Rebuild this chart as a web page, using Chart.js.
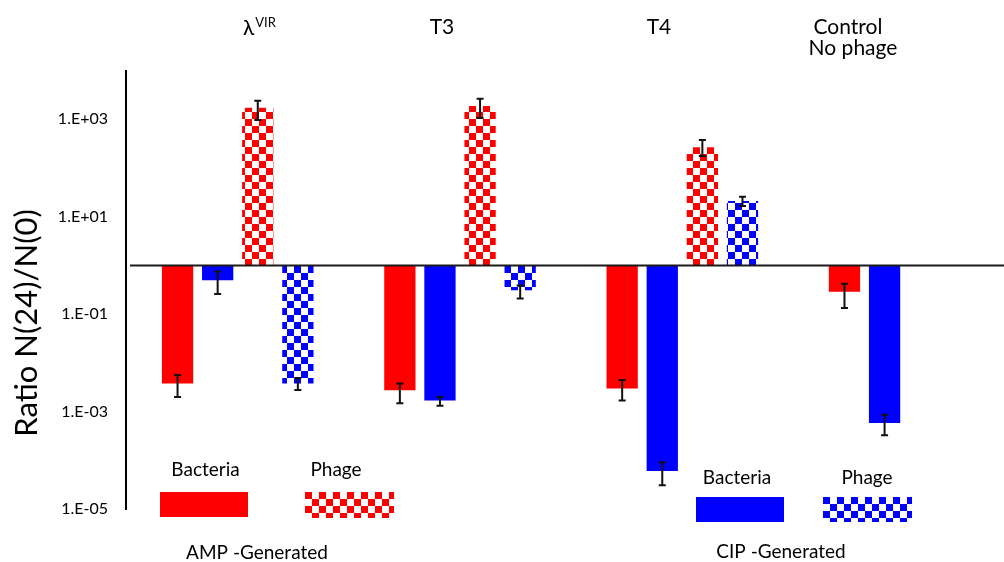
<!DOCTYPE html>
<html>
<head>
<meta charset="utf-8">
<script src="https://cdn.jsdelivr.net/npm/chart.js@4.4.1/dist/chart.umd.min.js"></script>
<style>
  html, body { margin: 0; padding: 0; background: #fff; overflow: hidden; }
  #wrap { width: 1004px; height: 562px; }
</style>
</head>
<body>
<div id="wrap"><canvas id="c" width="1004" height="562"></canvas></div>
<script>
// ---------------- data ----------------
const categories = ['λVIR', 'T3', 'T4', 'Control'];
const categoryNotes = ['', '', '', 'No phage'];

const seriesNames = ['AMP Bacteria', 'CIP Bacteria', 'AMP Phage', 'CIP Phage'];

const ampBacteria = [3.8e-3, 2.75e-3, 3.0e-3, 0.29];
const cipBacteria = [0.50, 1.7e-3, 6.1e-5, 5.9e-4];
const ampPhage    = [1730, 1870, 266, null];
const cipPhage    = [3.8e-3, 0.31, 21, null];

const ampBacteriaLow  = [2.0e-3, 1.5e-3, 1.7e-3, 0.134];
const ampBacteriaHigh = [5.7e-3, 3.8e-3, 4.5e-3, 0.42];
const cipBacteriaLow  = [0.26, 1.33e-3, 3.1e-5, 3.3e-4];
const cipBacteriaHigh = [0.75, 2.0e-3, 9.2e-5, 8.7e-4];
const ampPhageLow     = [970, 1060, 176, null];
const ampPhageHigh    = [2400, 2640, 375, null];
const cipPhageLow     = [2.8e-3, 0.21, 16.6, null];
const cipPhageHigh    = [4.9e-3, 0.39, 25.8, null];

const baselineValue = 1;
const yTicks = [1e-5, 1e-3, 1e-1, 1e1, 1e3];
const yTickLabels = ['1.E-05', '1.E-03', '1.E-01', '1.E+01', '1.E+03'];
const yTitle = 'Ratio N(24)/N(0)';
const legendGroups = ['AMP -Generated', 'CIP -Generated'];
const legendItems = ['Bacteria', 'Phage'];

// ---------------- styling helpers ----------------
const RED = '#ff0000', BLUE = '#0000ff';
const FONT = "Lato, 'Open Sans', 'Noto Sans', 'DejaVu Sans', sans-serif";

function makeChecker(color, cell) {
  const c = document.createElement('canvas');
  c.width = c.height = cell * 2;
  const g = c.getContext('2d');
  g.fillStyle = '#ffffff'; g.fillRect(0, 0, cell * 2, cell * 2);
  g.fillStyle = color;
  g.fillRect(0, 0, cell, cell);
  g.fillRect(cell, cell, cell, cell);
  return c;
}
const mainCtx = document.getElementById('c').getContext('2d');
const redTile = makeChecker(RED, 7), blueTile = makeChecker(BLUE, 7);
const redChecker = mainCtx.createPattern(redTile, 'repeat');
const blueChecker = mainCtx.createPattern(blueTile, 'repeat');

function toPoints(vals) {
  return vals.map((v, i) => ({ x: i, y: v == null ? null : [baselineValue, v] }));
}

const seriesValues = [ampBacteria, cipBacteria, ampPhage, cipPhage];
const seriesFills = [RED, BLUE, redChecker, blueChecker];
const errorSets = [
  { low: ampBacteriaLow, high: ampBacteriaHigh },
  { low: cipBacteriaLow, high: cipBacteriaHigh },
  { low: ampPhageLow, high: ampPhageHigh },
  { low: cipPhageLow, high: cipPhageHigh }
];

const datasets = seriesValues.map((vals, k) => ({
  label: seriesNames[k],
  data: toPoints(vals),
  backgroundColor: seriesFills[k],
  borderWidth: 0,
  categoryPercentage: 0.7216,
  barPercentage: 0.78
}));

function drawText(ctx, txt, x, y, size, align) {
  ctx.font = size + 'px ' + FONT;
  ctx.textAlign = align || 'center';
  ctx.textBaseline = 'alphabetic';
  ctx.fillStyle = '#000';
  ctx.fillText(txt, x, y);
}

function drawSwatch(ctx, fill, tile, x, y, w, h) {
  ctx.save();
  if (tile) {
    const p = ctx.createPattern(tile, 'repeat');
    ctx.translate(x, y);
    ctx.fillStyle = p;
    ctx.fillRect(0, 0, w, h);
  } else {
    ctx.fillStyle = fill;
    ctx.fillRect(x, y, w, h);
  }
  ctx.restore();
}

const annotate = {
  id: 'annotate',
  afterDatasetsDraw(chart) {
    const { ctx, chartArea, scales: { y } } = chart;
    ctx.save();
    // baseline at ratio = 1
    const yb = y.getPixelForValue(baselineValue);
    ctx.strokeStyle = '#1a1a1a';
    ctx.lineWidth = 2;
    ctx.beginPath();
    ctx.moveTo(chartArea.left + 4, yb);
    ctx.lineTo(chart.width, yb);
    ctx.stroke();
    // error bars
    ctx.strokeStyle = '#111';
    ctx.lineWidth = 2;
    errorSets.forEach((es, di) => {
      const meta = chart.getDatasetMeta(di);
      es.low.forEach((lo, j) => {
        const hi = es.high[j];
        if (lo == null || hi == null || !meta.data[j]) return;
        const cx = meta.data[j].x;
        const yl = y.getPixelForValue(lo), yh = y.getPixelForValue(hi);
        ctx.beginPath();
        ctx.moveTo(cx, yl); ctx.lineTo(cx, yh);
        ctx.moveTo(cx - 3.5, yl); ctx.lineTo(cx + 3.5, yl);
        ctx.moveTo(cx - 3.5, yh); ctx.lineTo(cx + 3.5, yh);
        ctx.stroke();
      });
    });
    ctx.restore();
  },
  afterDraw(chart) {
    const ctx = chart.ctx;
    ctx.save();
    // top group labels
    const labelPos = [[243, 35], [442, 34], [659, 34], [848, 34]];
    categories.forEach((c, i) => {
      const [lx, ly] = labelPos[i];
      if (c.startsWith('λ')) {
        drawText(ctx, 'λ', lx, ly, 21, 'left');
        const w = ctx.measureText('λ').width;
        drawText(ctx, c.slice(1), lx + w + 1, ly - 8, 13, 'left');
      } else {
        drawText(ctx, c, lx, ly, 21, 'center');
      }
      if (categoryNotes[i]) drawText(ctx, categoryNotes[i], lx + 5, ly + 21, 21, 'center');
    });
    // y axis title
    ctx.save();
    ctx.translate(27, 323);
    ctx.rotate(-Math.PI / 2);
    ctx.font = '31px ' + FONT;
    ctx.textAlign = 'center';
    ctx.textBaseline = 'middle';
    ctx.fillStyle = '#000';
    ctx.fillText(yTitle, 0, 0);
    ctx.restore();
    // legend
    drawText(ctx, legendItems[0], 205.5, 476, 19);
    drawText(ctx, legendItems[1], 336, 476, 19);
    drawSwatch(ctx, RED, null, 160, 492, 88, 25);
    drawSwatch(ctx, null, redTile, 305, 492, 89, 26);
    drawText(ctx, legendGroups[0], 257, 559, 19);

    drawText(ctx, legendItems[0], 737, 484, 19);
    drawText(ctx, legendItems[1], 867, 484, 19);
    drawSwatch(ctx, BLUE, null, 696, 497, 88, 25);
    drawSwatch(ctx, null, blueTile, 823, 497, 89, 25);
    drawText(ctx, legendGroups[1], 781, 558, 19);
    ctx.restore();
  }
};

new Chart(document.getElementById('c'), {
  type: 'bar',
  data: { datasets },
  plugins: [annotate],
  options: {
    responsive: false,
    animation: false,
    devicePixelRatio: 1,
    layout: { padding: { top: 70.5, bottom: 52.75, left: 0, right: 0 } },
    plugins: { legend: { display: false }, tooltip: { enabled: false } },
    scales: {
      x: {
        type: 'linear',
        offset: false,
        grid: { offset: false },
        min: -0.5025,
        max: 3.447,
        display: false,
        afterBuildTicks: (s) => { s.ticks = categories.map((c, i) => ({ value: i })); }
      },
      y: {
        type: 'logarithmic',
        min: 1e-5,
        max: 1e4,
        afterFit: (s) => { s.width = 126; },
        afterBuildTicks: (s) => { s.ticks = yTicks.map(v => ({ value: v })); },
        ticks: {
          callback: (v, i) => yTickLabels[i],
          font: { family: FONT, size: 16 },
          color: '#000',
          padding: 18,
          autoSkip: false,
          maxRotation: 0
        },
        grid: { display: false, drawTicks: false },
        border: { display: true, color: '#000', width: 2 }
      }
    }
  }
});
</script>
</body>
</html>
